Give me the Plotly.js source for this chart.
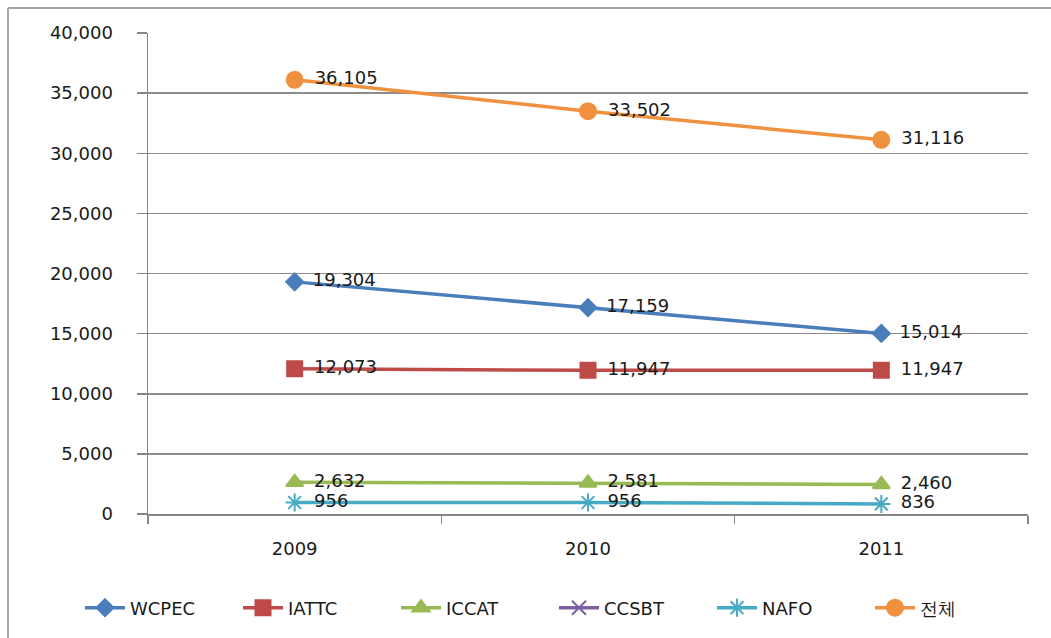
<!DOCTYPE html>
<html>
<head>
<meta charset="utf-8">
<script src="https://cdn.plot.ly/plotly-3.0.1.min.js"></script>
<style>html,body{margin:0;padding:0;background:#fff;}#chart{width:1051px;height:638px;}</style>
</head>
<body>
<div id="chart"></div>
<script>
const years = ["2009", "2010", "2011"];
const seriesNames = ["WCPEC", "IATTC", "ICCAT", "CCSBT", "NAFO", "전체"];
const wcpec = [19304, 17159, 15014];
const iattc = [12073, 11947, 11947];
const iccat = [2632, 2581, 2460];
const ccsbt = [null, null, null];
const nafo = [956, 956, 836];
const total = [36105, 33502, 31116];
const yTicks = [0, 5000, 10000, 15000, 20000, 25000, 30000, 35000, 40000];

const styles = [
  {color: "#4a7ebb", symbol: "diamond", size: 13},
  {color: "#be4b48", symbol: "square", size: 15},
  {color: "#98b954", symbol: "triangle-up", size: 15},
  {color: "#7d60a0", symbol: "x-thin-open", size: 14},
  {color: "#46aac5", symbol: "asterisk-open", size: 15},
  {color: "#f0913f", symbol: "circle", size: 16}
];
const allValues = [wcpec, iattc, iccat, ccsbt, nafo, total];

const traces = allValues.map((vals, i) => ({
  type: "scatter",
  mode: "lines+markers+text",
  name: seriesNames[i],
  x: years,
  y: vals,
  text: vals.map(v => v == null ? "" : "\u2002" + v.toLocaleString("en-US")),
  textposition: "middle right",
  textfont: {family: "DejaVu Sans, Verdana, sans-serif", size: 18, color: "#1a1a1a"},
  cliponaxis: false,
  line: {color: styles[i].color, width: 3.5},
  marker: {color: styles[i].color, symbol: styles[i].symbol, size: styles[i].size,
           line: {color: styles[i].color, width: 2}},
  hoverinfo: "none"
}));

const L = 148, R = 23, T = 33, B = 124;
const pw = 1051 - L - R, ph = 638 - T - B;

const layout = {
  width: 1051, height: 638,
  margin: {l: L, r: R, t: T, b: B, pad: 0, autoexpand: false},
  paper_bgcolor: "#ffffff",
  plot_bgcolor: "#ffffff",
  showlegend: true,
  font: {family: "DejaVu Sans, Verdana, sans-serif", color: "#1a1a1a"},
  xaxis: {
    type: "category",
    range: [-0.5, 2.5],
    tickson: "boundaries",
    ticks: "outside",
    ticklen: 8,
    tickcolor: "#868686",
    tickwidth: 1.5,
    showline: true,
    linecolor: "#868686",
    linewidth: 1.5,
    showgrid: false,
    zeroline: false,
    tickfont: {size: 18, color: "#1a1a1a"},
    ticklabelstandoff: 18
  },
  yaxis: {
    range: [0, 40000],
    tickvals: yTicks,
    ticktext: yTicks.map(v => v.toLocaleString("en-US")),
    ticks: "outside",
    ticklen: 10,
    tickcolor: "#868686",
    tickwidth: 1.5,
    showline: true,
    linecolor: "#868686",
    linewidth: 1.5,
    showgrid: true,
    gridcolor: "#8c8c8c",
    gridwidth: 1.5,
    zeroline: false,
    tickfont: {size: 18, color: "#1a1a1a"},
    ticklabelstandoff: 20
  },
  legend: {
    orientation: "h",
    x: (80 - L) / pw, xanchor: "left",
    y: (514 - 608) / ph, yanchor: "middle",
    font: {size: 18, color: "#1a1a1a"},
    itemwidth: 40,
    entrywidth: 103,
    tracegroupgap: 0
  },
  shapes: [
    {type: "line", xref: "paper", yref: "paper",
     x0: (8 - L) / pw, x1: (8 - L) / pw, y0: 1 + (T - 8) / ph, y1: -(B + 5) / ph,
     line: {color: "#a6a6a6", width: 2}},
    {type: "line", xref: "paper", yref: "paper",
     x0: (8 - L) / pw, x1: (1060 - L) / pw, y0: 1 + (T - 8) / ph, y1: 1 + (T - 8) / ph,
     line: {color: "#a6a6a6", width: 2}}
  ]
};

Plotly.newPlot("chart", traces, layout, {displayModeBar: false, staticPlot: true});
</script>
</body>
</html>
